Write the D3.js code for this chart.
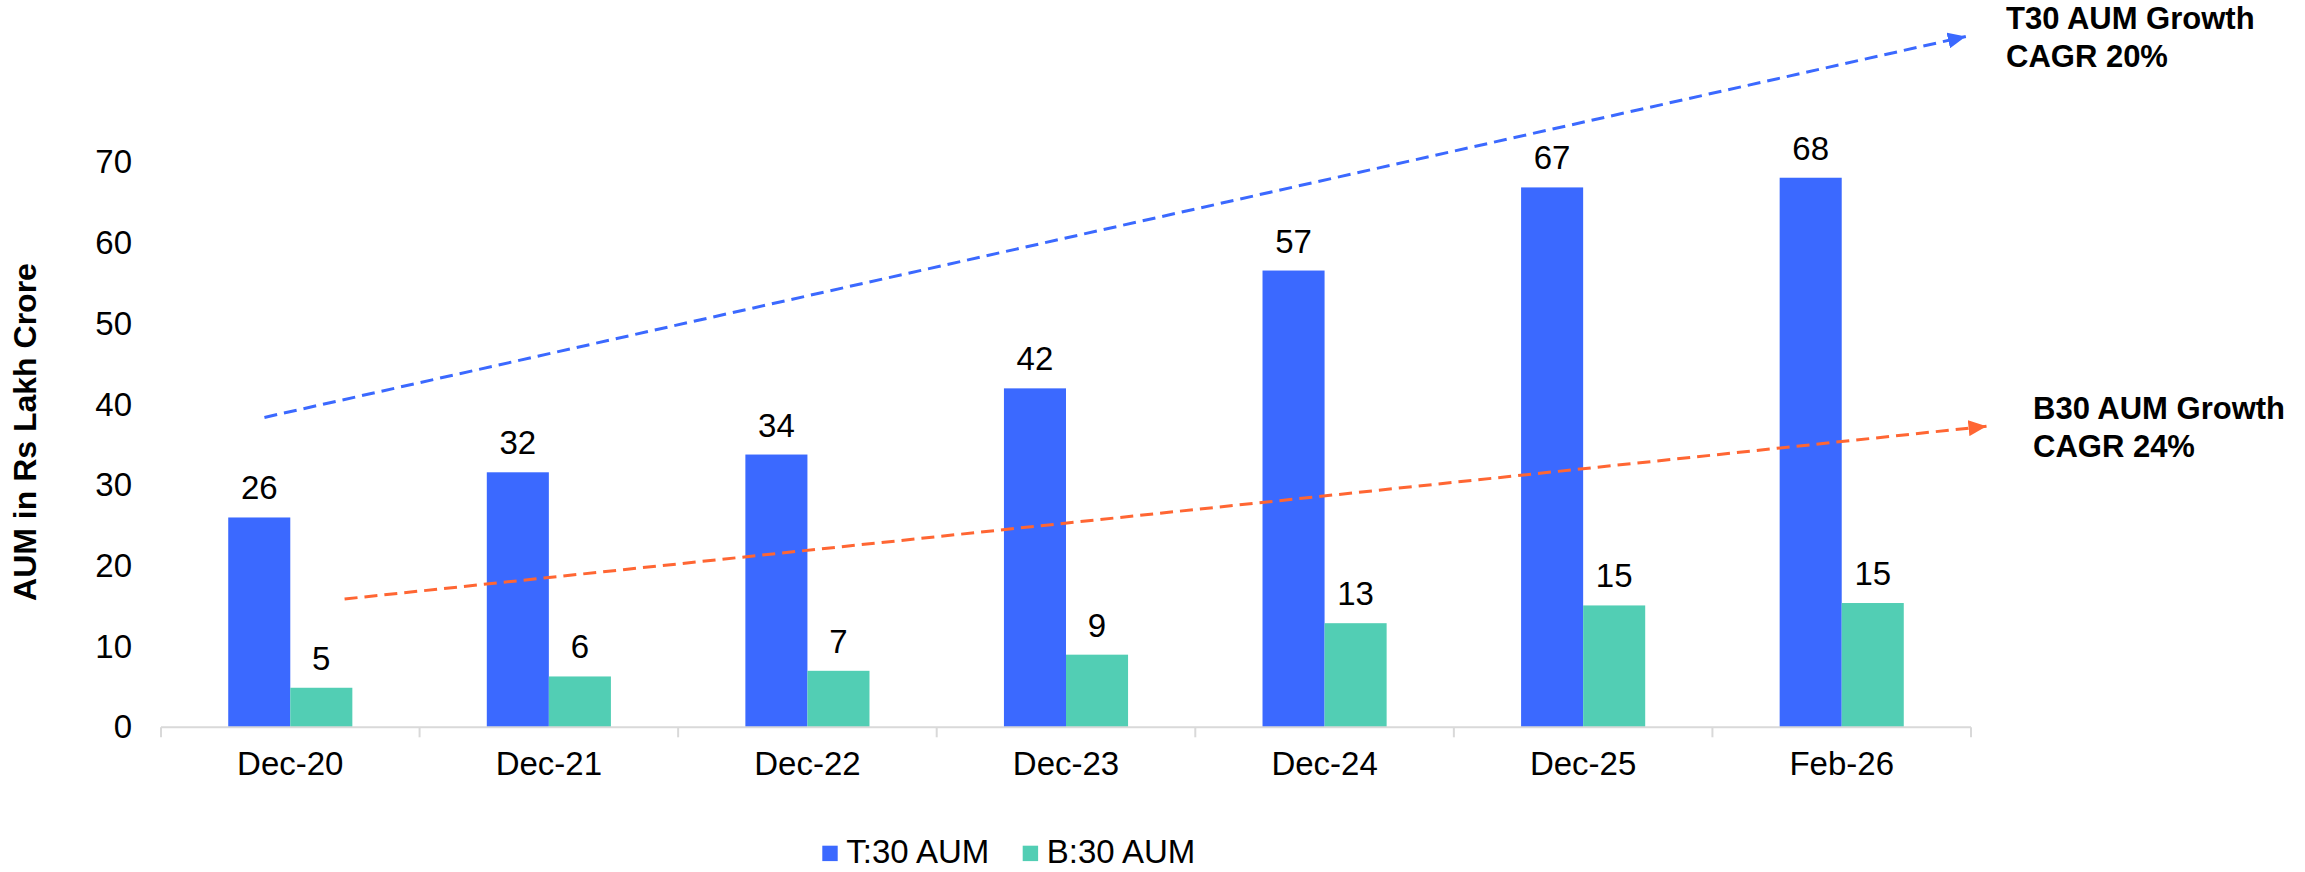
<!DOCTYPE html>
<html>
<head>
<meta charset="utf-8">
<script src="https://cdn.jsdelivr.net/npm/d3@7"></script>
<style>
  html, body { margin: 0; padding: 0; background: #ffffff; }
  svg { display: block; font-family: "Liberation Sans", Arial, sans-serif; }
</style>
</head>
<body>
<svg id="chart" width="2305" height="872"></svg>
<script>
// ---- data ----
const categories = ["Dec-20", "Dec-21", "Dec-22", "Dec-23", "Dec-24", "Dec-25", "Feb-26"];
const seriesNames = ["T:30 AUM", "B:30 AUM"];
const t30Values = [26.0, 31.6, 33.8, 42.0, 56.6, 66.9, 68.1];
const b30Values = [4.9, 6.3, 7.0, 9.0, 12.9, 15.1, 15.4];
const yTicks = [0, 10, 20, 30, 40, 50, 60, 70];
// trend arrows: [category position index, value]
const t30Trend = [[-0.1, 38.4], [6.48, 85.6]];
const b30Trend = [[0.21, 15.9], [6.56, 37.3]];
const t30Note = ["T30 AUM Growth", "CAGR 20%"];
const b30Note = ["B30 AUM Growth", "CAGR 24%"];
const yTitle = "AUM in Rs Lakh Crore";

// ---- style ----
const colors = ["#3B69FF", "#52CEB4"];
const trendColors = ["#3B69FF", "#FF6633"];
const fontSize = 33;
const boldSize = 31;

const svg = d3.select("#chart");

const plotLeft = 161, plotRight = 1971, plotBottom = 727.3, plotTop = 162.4;

const x = d3.scaleBand().domain(categories).range([plotLeft, plotRight])
  .paddingInner(0.52).paddingOuter(0.26);
const xs = d3.scaleBand().domain(seriesNames).range([0, x.bandwidth()]);
const y = d3.scaleLinear().domain([0, 70]).range([plotBottom, plotTop]);
// continuous category-index scale for annotation arrows
const xi = d3.scaleLinear().domain([0, categories.length - 1])
  .range([x(categories[0]) + x.bandwidth() / 2, x(categories[categories.length - 1]) + x.bandwidth() / 2]);

// ---- y axis labels ----
const yAxis = d3.axisLeft(y).tickValues(yTicks).tickSize(0).tickPadding(0);
const gy = svg.append("g").attr("transform", "translate(132,0)").call(yAxis);
gy.select(".domain").remove();
gy.selectAll("text").attr("font-size", fontSize).attr("fill", "#000")
  .attr("font-family", "'Liberation Sans', Arial, sans-serif");

// y title
svg.append("text")
  .attr("transform", `translate(36,432) rotate(-90)`)
  .attr("text-anchor", "middle")
  .attr("font-size", 32).attr("font-weight", "bold").attr("fill", "#000")
  .text(yTitle);

// ---- bars ----
const rows = categories.map((c, i) => ({ cat: c, vals: [t30Values[i], b30Values[i]] }));
const groups = svg.append("g").selectAll("g").data(rows).join("g")
  .attr("transform", d => `translate(${x(d.cat)},0)`);

groups.selectAll("rect").data(d => d.vals.map((v, k) => ({ v, k }))).join("rect")
  .attr("x", d => xs(seriesNames[d.k]))
  .attr("width", xs.bandwidth())
  .attr("y", d => y(d.v))
  .attr("height", d => y(0) - y(d.v))
  .attr("fill", d => colors[d.k]);

groups.selectAll("text.val").data(d => d.vals.map((v, k) => ({ v, k }))).join("text")
  .attr("class", "val")
  .attr("x", d => xs(seriesNames[d.k]) + xs.bandwidth() / 2)
  .attr("y", d => y(d.v) - 18)
  .attr("text-anchor", "middle")
  .attr("font-size", fontSize).attr("fill", "#000")
  .text(d => d3.format(".0f")(d.v));

// ---- x axis ----
const step = x.step();
svg.append("line")
  .attr("x1", plotLeft).attr("x2", plotRight)
  .attr("y1", plotBottom).attr("y2", plotBottom)
  .attr("stroke", "#d9d9d9").attr("stroke-width", 2);
const boundaries = categories.map(c => x(c) - step * x.paddingInner() / 2).concat([plotRight]);
svg.append("g").selectAll("line").data(boundaries).join("line")
  .attr("x1", d => d).attr("x2", d => d)
  .attr("y1", plotBottom).attr("y2", plotBottom + 10)
  .attr("stroke", "#d9d9d9").attr("stroke-width", 2);
svg.append("g").selectAll("text").data(categories).join("text")
  .attr("x", d => x(d) + x.bandwidth() / 2)
  .attr("y", 775)
  .attr("text-anchor", "middle")
  .attr("font-size", fontSize).attr("fill", "#000")
  .text(d => d);

// ---- trend arrows ----
const defs = svg.append("defs");
trendColors.forEach((col, i) => {
  defs.append("marker")
    .attr("id", "arrow" + i)
    .attr("markerUnits", "userSpaceOnUse")
    .attr("viewBox", "0 0 18 16")
    .attr("refX", 18).attr("refY", 8)
    .attr("markerWidth", 18).attr("markerHeight", 16)
    .attr("orient", "auto")
    .append("path").attr("d", "M0,0 L18,8 L0,16 Z").attr("fill", col);
});
[t30Trend, b30Trend].forEach((tr, i) => {
  svg.append("line")
    .attr("x1", xi(tr[0][0])).attr("y1", y(tr[0][1]))
    .attr("x2", xi(tr[1][0])).attr("y2", y(tr[1][1]))
    .attr("stroke", trendColors[i]).attr("stroke-width", 3)
    .attr("stroke-dasharray", "13,7")
    .attr("marker-end", `url(#arrow${i})`);
});

// annotation texts
function note(lines, x0, yBase) {
  const t = svg.append("text").attr("font-size", boldSize).attr("font-weight", "bold").attr("fill", "#000");
  lines.forEach((l, k) => t.append("tspan").attr("x", x0).attr("y", yBase + k * 38.3).text(l));
}
note(t30Note, 2006, 28.5);
note(b30Note, 2033, 419);

// ---- legend ----
const legendX = [822.3, 1022.7];
const lg = svg.append("g").selectAll("g").data(seriesNames).join("g")
  .attr("transform", (d, i) => `translate(${legendX[i]},0)`);
lg.append("rect").attr("x", 0).attr("y", 845.7).attr("width", 15.4).attr("height", 15.4)
  .attr("fill", (d, i) => colors[i]);
lg.append("text").attr("x", 24).attr("y", 863).attr("font-size", fontSize).attr("fill", "#000")
  .text(d => d);
</script>
</body>
</html>
